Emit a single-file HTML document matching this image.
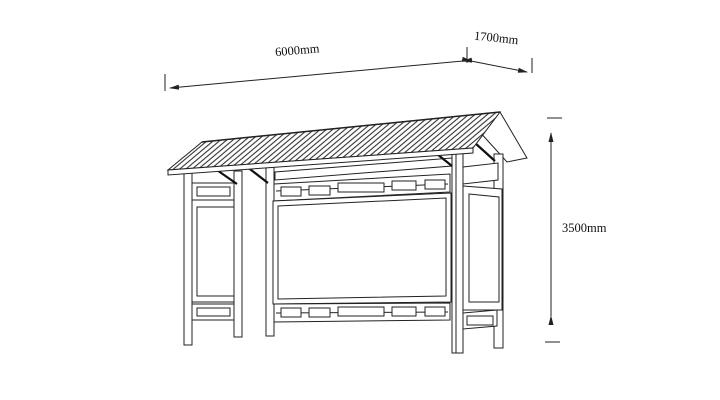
<!DOCTYPE html>
<html><head><meta charset="utf-8"><style>
html,body{margin:0;padding:0;background:#fff;}
svg{display:block;}
text{font-family:"Liberation Serif",serif;font-size:12.5px;fill:#111;}
</style></head><body>
<svg width="720" height="400" viewBox="0 0 720 400" xmlns="http://www.w3.org/2000/svg">
<defs>
<pattern id="corr" width="4" height="10" patternUnits="userSpaceOnUse" patternTransform="rotate(50)">
<rect width="4" height="10" fill="#fff"/>
<line x1="1" y1="0" x2="1" y2="10" stroke="#333" stroke-width="1.1"/>
</pattern>
<marker id="ar" markerWidth="10" markerHeight="6" refX="9" refY="3" orient="auto" markerUnits="userSpaceOnUse">
<path d="M0,0.5 L10,3 L0,5.5 Z" fill="#222"/>
</marker>
</defs>
<g stroke="#222" stroke-width="1" fill="none">
<line x1="165" y1="74" x2="165" y2="91"/>
<line x1="463" y1="61" x2="170" y2="88" marker-end="url(#ar)" marker-start="url(#ar)"/>
<line x1="467" y1="47" x2="467" y2="63"/>
<line x1="471" y1="61" x2="527" y2="72" marker-end="url(#ar)" marker-start="url(#ar)"/>
<line x1="532" y1="58" x2="532" y2="73"/>
<line x1="547" y1="118" x2="562" y2="118"/>
<line x1="545" y1="342" x2="560" y2="342"/>
<line x1="551" y1="316" x2="551" y2="133" marker-end="url(#ar)" marker-start="url(#ar)"/>
</g>
<text x="275" y="54" transform="rotate(-5 300 50)">6000mm</text>
<text x="474" y="42" transform="rotate(6 497 38)">1700mm</text>
<text x="562" y="232">3500mm</text>

<g stroke="#222" stroke-width="1" fill="#fff">
<polygon points="275,172 452,158 452,166 275,180"/>
<polygon points="500,112 527,158 507,162 478,130" />
<rect x="494" y="154" width="9" height="194"/>
<!-- left panel -->
<rect x="192" y="183" width="42" height="17"/>
<rect x="197" y="187" width="33" height="9"/>
<rect x="191" y="200" width="46" height="102"/>
<rect x="197" y="207" width="38" height="89"/>
<rect x="192" y="304" width="42" height="16"/>
<rect x="197" y="308" width="33" height="8"/>
<rect x="184" y="170" width="8" height="175"/>
<rect x="234" y="171" width="8" height="166"/>
<rect x="266" y="167" width="8" height="169"/>
<!-- middle panel -->
<polygon points="274,184 450,174 450,192 274,201"/>
<polygon points="273,201 451,193 451,302 273,304"/>
<polygon points="278,206 446,198 446,296 278,299"/>
<polygon points="274,304 450,303 450,320 274,322"/>
</g>
<g stroke="#222" stroke-width="1" fill="none">
<line x1="276" y1="191" x2="448" y2="184"/>
<line x1="276" y1="313" x2="448" y2="312"/>
</g>
<g stroke="#222" stroke-width="1" fill="#fff">
<rect x="281" y="187" width="20" height="9"/>
<rect x="309" y="186" width="21" height="9"/>
<rect x="338" y="183" width="46" height="9"/>
<rect x="392" y="181" width="24" height="9"/>
<rect x="425" y="180" width="20" height="9"/>
<rect x="281" y="308" width="20" height="9"/>
<rect x="309" y="308" width="21" height="9"/>
<rect x="338" y="307" width="46" height="9"/>
<rect x="392" y="307" width="24" height="9"/>
<rect x="425" y="307" width="20" height="9"/>
<!-- right panel -->
<polygon points="463,167 498,163 498,180 463,184"/>
<polygon points="463,186 502,189 502,310 463,310"/>
<polygon points="469,194 499,197 499,302 469,302"/>
<polygon points="463,313 497,310 497,326 463,329"/>
<rect x="467" y="316" width="26" height="9"/>
<rect x="452" y="148" width="11" height="205"/>
<line x1="456" y1="150" x2="456" y2="353"/>
</g>
<g stroke="#111" stroke-width="2.2">
<line x1="214" y1="168" x2="237" y2="184"/>
<line x1="246" y1="166" x2="268" y2="183"/>
<line x1="432" y1="150" x2="452" y2="166"/>
<line x1="475" y1="143" x2="495" y2="161"/>
</g>
<g stroke="#222" stroke-width="1">
<polygon points="202,142 500,112 473,148 168,170" fill="url(#corr)"/>
<polygon points="168,170 473,148 473,153 168,175" fill="#fff"/>
<line x1="202" y1="142" x2="500" y2="112" stroke-width="1.5"/>
</g>
</svg>
</body></html>
